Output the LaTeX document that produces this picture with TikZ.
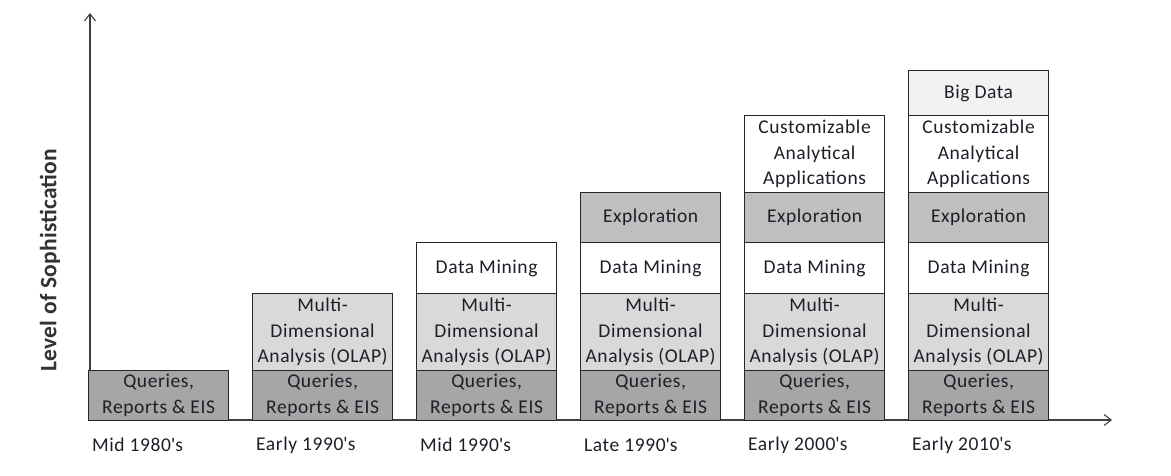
\documentclass[tikz,border=0pt]{standalone}
\usepackage{fontspec}
\setmainfont{Carlito}[LetterSpace=3]
\newfontfamily\labfont{Carlito}[LetterSpace=1]
\usetikzlibrary{arrows.meta}
\definecolor{dk}{HTML}{A6A6A6}
\definecolor{md}{HTML}{BFBFBF}
\definecolor{lt}{HTML}{D9D9D9}
\definecolor{vl}{HTML}{F2F2F2}
\definecolor{txt}{HTML}{1E1E28}
\begin{document}
\begin{tikzpicture}[x=1pt,y=-1pt,
  blk/.style={draw=black!85,line width=1.2pt,rectangle,anchor=north west,minimum width=140pt,inner sep=0pt,align=center,text=txt,font=\fontsize{19.5}{25.5}\selectfont},
  qbox/.style={blk,fill=dk,minimum height=50pt},
  mbox/.style={blk,fill=lt,minimum height=77pt},
  dbox/.style={blk,fill=white,minimum height=51pt},
  ebox/.style={blk,fill=md,minimum height=50pt},
  cbox/.style={blk,fill=white,minimum height=77pt},
  bbox/.style={blk,fill=vl,minimum height=45pt},
  era/.style={anchor=west,text=txt,inner sep=0pt,font=\fontsize{19.5}{22}\selectfont},
  axis/.style={draw=black!75,line width=1.1pt,-{Straight Barb[length=7pt,width=11pt]}}]
\useasboundingbox (0,0) rectangle (1171,475);
\coordinate (o) at (90,420);
\coordinate (ytop) at (90,13);
\coordinate (xend) at (1112,420);
\draw[axis] (o) -- (ytop);
\draw[axis] (o) -- (xend);
\node[rotate=90,font=\labfont\fontsize{23.5}{26}\bfseries\selectfont,text=black!80] (ylab) at (50,260) {Level of Sophistication};
% column lefts: 88,252,416,580,744,908
\foreach \i/\x in {1/88,2/252,3/416,4/580,5/744,6/908}{
  \node[qbox] (q\i) at (\x,370) {Queries,\\Reports \& EIS};
}
\foreach \i/\x in {2/252,3/416,4/580,5/744,6/908}{
  \node[mbox] (m\i) at (\x,293) {Multi-\\Dimensional\\Analysis (OLAP)};
}
\foreach \i/\x in {3/416,4/580,5/744,6/908}{
  \node[dbox] (d\i) at (\x,242) {Data Mining};
}
\foreach \i/\x in {4/580,5/744,6/908}{
  \node[ebox] (e\i) at (\x,192) {Exploration};
}
\foreach \i/\x in {5/744,6/908}{
  \node[cbox] (c\i) at (\x,115) {Customizable\\Analytical\\Applications};
}
\node[bbox] (b6) at (908,70) {Big Data};
\node[era] (t1) at (92,445) {Mid 1980\textquotesingle s};
\node[era] (t2) at (256,445) {Early 1990\textquotesingle s};
\node[era] (t3) at (420,445) {Mid 1990\textquotesingle s};
\node[era] (t4) at (584,445) {Late 1990\textquotesingle s};
\node[era] (t5) at (748,445) {Early 2000\textquotesingle s};
\node[era] (t6) at (912,445) {Early 2010\textquotesingle s};
\end{tikzpicture}
\end{document}
